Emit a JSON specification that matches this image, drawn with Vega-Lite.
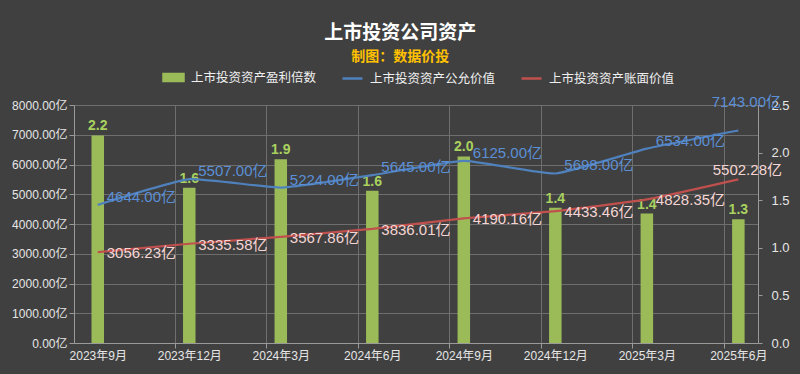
{
  "$schema": "https://vega.github.io/schema/vega-lite/v6.json",
  "width": 684,
  "height": 238,
  "autosize": {"type": "none"},
  "padding": {"left": 74, "top": 105, "right": 42, "bottom": 31},
  "background": "#404040",
  "config": {"view": {"stroke": null}},
  "title": {
    "text": "上市投资公司资产",
    "subtitle": "制图：数据价投",
    "anchor": "middle",
    "frame": "bounds",
    "offset": 2,
    "color": "#ffffff",
    "fontSize": 19,
    "font": "Liberation Sans, Noto Sans CJK SC",
    "fontWeight": "bold",
    "subtitleColor": "#ffc000",
    "subtitleFontSize": 14,
    "subtitleFontWeight": "bold",
    "subtitleFont": "Liberation Sans, Noto Sans CJK SC",
    "subtitlePadding": 7
  },
  "data": {
    "values": [
      {"period": "2023年9月", "ratio": 2.18, "fair": 4644, "book": 3056.23},
      {"period": "2023年12月", "ratio": 1.63, "fair": 5507, "book": 3335.58},
      {"period": "2024年3月", "ratio": 1.93, "fair": 5224, "book": 3567.86},
      {"period": "2024年6月", "ratio": 1.6, "fair": 5645, "book": 3836.01},
      {"period": "2024年9月", "ratio": 1.96, "fair": 6125, "book": 4190.16},
      {"period": "2024年12月", "ratio": 1.42, "fair": 5698, "book": 4433.46},
      {"period": "2025年3月", "ratio": 1.36, "fair": 6534, "book": 4828.35},
      {"period": "2025年6月", "ratio": 1.3, "fair": 7143, "book": 5502.28}
    ]
  },
  "transform": [
    {"window": [{"op": "row_number", "as": "rn"}]},
    {"calculate": "format(datum.fair, '.2f') + '亿'", "as": "fairLabel"},
    {"calculate": "format(datum.book, '.2f') + '亿'", "as": "bookLabel"}
  ],
  "layer": [
    {
      "layer": [
        {
          "mark": {"type": "bar", "size": 12.5, "orient": "vertical"},
          "encoding": {
            "x": {"field": "rn", "type": "quantitative", "scale": {"domain": [0.795, 8.16], "nice": false, "zero": false},
              "axis": {"values": [1, 2, 3, 4, 5, 6, 7, 8, 1.84, 2.84, 3.84, 4.84, 5.84, 6.84, 7.84],
                "labelExpr": "datum.value % 1 == 0 ? ['2023年9月','2023年12月','2024年3月','2024年6月','2024年9月','2024年12月','2025年3月','2025年6月'][datum.value - 1] : ''",
                "title": null, "grid": true,
                "gridColor": {"condition": {"test": "datum.value % 1 == 0", "value": "transparent"}, "value": "#6e6e6e"},
                "tickColor": {"condition": {"test": "datum.value % 1 == 0", "value": "transparent"}, "value": "#9a9a9a"},
                "tickSize": 5, "domainColor": "#9a9a9a", "labelColor": "#e6e6e6", "labelFontSize": 12, "labelPadding": 2,
                "labelFont": "Liberation Sans, Noto Sans CJK SC", "labelFlush": false, "labelOverlap": false, "labelBound": false}},
            "y": {"field": "ratio", "type": "quantitative", "scale": {"domain": [0, 2.5], "nice": false},
              "axis": {"orient": "right", "values": [0, 0.5, 1, 1.5, 2, 2.5], "format": ".1f", "title": null, "grid": false,
                "tickColor": "#9a9a9a", "domainColor": "#9a9a9a", "tickSize": 4, "labelColor": "#e6e6e6", "labelFontSize": 13,
                "labelPadding": 9, "labelOverlap": false, "labelFont": "Liberation Sans, Noto Sans CJK SC"}},
            "color": {"datum": "ratio", "type": "nominal",
              "scale": {"domain": ["ratio", "fair", "book"], "range": ["#9bbb59", "#4f81bd", "#c0504d"]},
              "legend": {"orient": "none", "legendX": 88, "legendY": -39, "direction": "horizontal", "title": null,
                "labelExpr": "datum.value == 'ratio' ? '上市投资资产盈利倍数' : datum.value == 'fair' ? '上市投资资产公允价值' : '上市投资资产账面价值'",
                "labelColor": "#f0f0f0", "labelFontSize": 12.5, "labelFont": "Liberation Sans, Noto Sans CJK SC",
                "symbolSize": 400, "symbolStrokeWidth": 2.5, "labelOffset": 6, "columnPadding": 20, "padding": 0,
                "encode": {"symbols": {"update": {
                  "shape": {"signal": "datum.value == 'ratio' ? 'M-1,-0.35H1V0.35H-1Z' : 'M-1,0H1'"},
                  "fill": {"signal": "datum.value == 'ratio' ? '#9bbb59' : 'transparent'"},
                  "stroke": {"signal": "datum.value == 'ratio' ? 'transparent' : datum.value == 'fair' ? '#4f81bd' : '#c0504d'"},
                  "strokeWidth": {"value": 2.5},
                  "size": {"value": 400}
                }}}}}
          }
        },
        {
          "mark": {"type": "text", "baseline": "alphabetic", "dy": -5, "fontSize": 14, "fontWeight": "bold", "fill": "#a9d15f", "font": "Liberation Sans, Noto Sans CJK SC"},
          "encoding": {
            "x": {"field": "rn", "type": "quantitative"},
            "y": {"field": "ratio", "type": "quantitative"},
            "text": {"field": "ratio", "type": "quantitative", "format": ".1f"}
          }
        }
      ]
    },
    {
      "layer": [
        {
          "transform": [{"fold": ["fair", "book"], "as": ["series", "amount"]}],
          "mark": {"type": "line", "interpolate": "cardinal", "tension": 0.6, "strokeWidth": 2.2},
          "encoding": {
            "x": {"field": "rn", "type": "quantitative"},
            "y": {"field": "amount", "type": "quantitative", "scale": {"domain": [0, 8000], "nice": false},
              "axis": {"values": [0, 1000, 2000, 3000, 4000, 5000, 6000, 7000, 8000], "labelExpr": "format(datum.value, '.2f') + '亿'",
                "title": null, "grid": true, "gridColor": "#6e6e6e", "tickColor": "#9a9a9a", "domainColor": "#9a9a9a", "tickSize": 5,
                "labelOverlap": false, "labelColor": "#e6e6e6", "labelFontSize": 12, "labelPadding": 2, "labelFont": "Liberation Sans, Noto Sans CJK SC"}},
            "color": {"field": "series", "type": "nominal",
              "legend": {"orient": "none", "legendX": 88, "legendY": -39, "direction": "horizontal", "title": null,
                "labelExpr": "datum.value == 'ratio' ? '上市投资资产盈利倍数' : datum.value == 'fair' ? '上市投资资产公允价值' : '上市投资资产账面价值'",
                "labelColor": "#f0f0f0", "labelFontSize": 12.5, "labelFont": "Liberation Sans, Noto Sans CJK SC",
                "symbolSize": 400, "symbolStrokeWidth": 2.5, "labelOffset": 6, "columnPadding": 20, "padding": 0,
                "encode": {"symbols": {"update": {
                  "shape": {"signal": "datum.value == 'ratio' ? 'M-1,-0.35H1V0.35H-1Z' : 'M-1,0H1'"},
                  "fill": {"signal": "datum.value == 'ratio' ? '#9bbb59' : 'transparent'"},
                  "stroke": {"signal": "datum.value == 'ratio' ? 'transparent' : datum.value == 'fair' ? '#4f81bd' : '#c0504d'"},
                  "strokeWidth": {"value": 2.5},
                  "size": {"value": 400}
                }}}}}
          }
        },
        {
          "transform": [{"filter": "datum.rn < 8"}],
          "mark": {"type": "text", "align": "left", "baseline": "middle", "dx": 9, "dy": -8, "fontSize": 15, "fill": "#5b8fd6", "font": "Liberation Sans, Noto Sans CJK SC"},
          "encoding": {
            "x": {"field": "rn", "type": "quantitative"},
            "y": {"field": "fair", "type": "quantitative",
              "axis": {"values": [0, 1000, 2000, 3000, 4000, 5000, 6000, 7000, 8000], "labelExpr": "format(datum.value, '.2f') + '亿'",
                "title": null, "grid": true, "gridColor": "#6e6e6e", "tickColor": "#9a9a9a", "domainColor": "#9a9a9a", "tickSize": 5,
                "labelOverlap": false, "labelColor": "#e6e6e6", "labelFontSize": 12, "labelPadding": 2, "labelFont": "Liberation Sans, Noto Sans CJK SC"}},
            "text": {"field": "fairLabel", "type": "nominal"}
          }
        },
        {
          "transform": [{"filter": "datum.rn == 8"}],
          "mark": {"type": "text", "align": "center", "baseline": "middle", "dx": 8, "dy": -28, "fontSize": 15, "fill": "#5b8fd6", "font": "Liberation Sans, Noto Sans CJK SC"},
          "encoding": {
            "x": {"field": "rn", "type": "quantitative"},
            "y": {"field": "fair", "type": "quantitative",
              "axis": {"values": [0, 1000, 2000, 3000, 4000, 5000, 6000, 7000, 8000], "labelExpr": "format(datum.value, '.2f') + '亿'",
                "title": null, "grid": true, "gridColor": "#6e6e6e", "tickColor": "#9a9a9a", "domainColor": "#9a9a9a", "tickSize": 5,
                "labelOverlap": false, "labelColor": "#e6e6e6", "labelFontSize": 12, "labelPadding": 2, "labelFont": "Liberation Sans, Noto Sans CJK SC"}},
            "text": {"field": "fairLabel", "type": "nominal"}
          }
        },
        {
          "transform": [{"filter": "datum.rn < 8"}],
          "mark": {"type": "text", "align": "left", "baseline": "middle", "dx": 9, "dy": 1, "fontSize": 15, "fill": "#f5d5d3", "font": "Liberation Sans, Noto Sans CJK SC"},
          "encoding": {
            "x": {"field": "rn", "type": "quantitative"},
            "y": {"field": "book", "type": "quantitative",
              "axis": {"values": [0, 1000, 2000, 3000, 4000, 5000, 6000, 7000, 8000], "labelExpr": "format(datum.value, '.2f') + '亿'",
                "title": null, "grid": true, "gridColor": "#6e6e6e", "tickColor": "#9a9a9a", "domainColor": "#9a9a9a", "tickSize": 5,
                "labelOverlap": false, "labelColor": "#e6e6e6", "labelFontSize": 12, "labelPadding": 2, "labelFont": "Liberation Sans, Noto Sans CJK SC"}},
            "text": {"field": "bookLabel", "type": "nominal"}
          }
        },
        {
          "transform": [{"filter": "datum.rn == 8"}],
          "mark": {"type": "text", "align": "center", "baseline": "middle", "dx": 9, "dy": -9, "fontSize": 15, "fill": "#f5d5d3", "font": "Liberation Sans, Noto Sans CJK SC"},
          "encoding": {
            "x": {"field": "rn", "type": "quantitative"},
            "y": {"field": "book", "type": "quantitative",
              "axis": {"values": [0, 1000, 2000, 3000, 4000, 5000, 6000, 7000, 8000], "labelExpr": "format(datum.value, '.2f') + '亿'",
                "title": null, "grid": true, "gridColor": "#6e6e6e", "tickColor": "#9a9a9a", "domainColor": "#9a9a9a", "tickSize": 5,
                "labelOverlap": false, "labelColor": "#e6e6e6", "labelFontSize": 12, "labelPadding": 2, "labelFont": "Liberation Sans, Noto Sans CJK SC"}},
            "text": {"field": "bookLabel", "type": "nominal"}
          }
        }
      ]
    }
  ],
  "resolve": {"scale": {"y": "independent"}}
}
